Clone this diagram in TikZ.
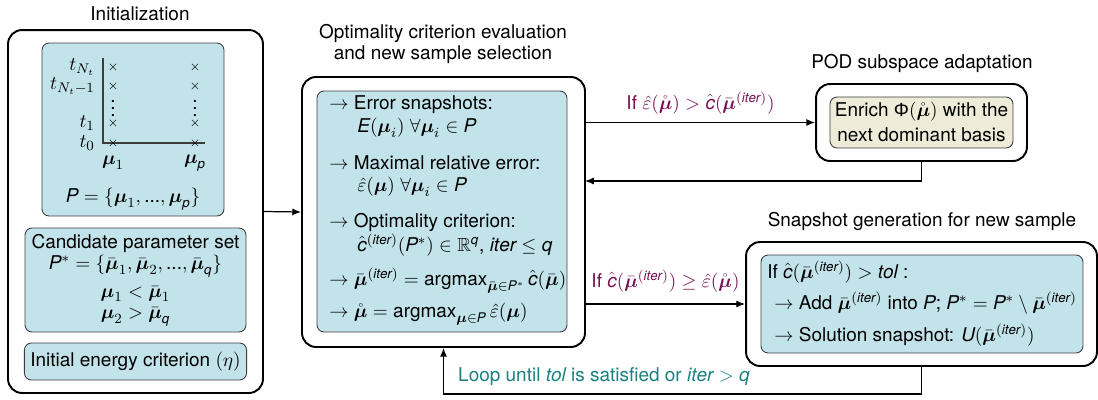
\documentclass[tikz,border=0pt]{standalone}
\usepackage{amsmath,amssymb}
\usepackage{fontspec}
\setmainfont{TeX Gyre Heros}
\newfontfamily\greekfont{Liberation Sans}
\usetikzlibrary{positioning,arrows.meta,calc}
\definecolor{boxblue}{RGB}{194,227,234}
\definecolor{boxtan}{RGB}{238,235,216}
\definecolor{condpurple}{RGB}{122,15,85}
\definecolor{loopteal}{RGB}{26,128,128}
\definecolor{edgegray}{RGB}{60,60,60}
\newcommand{\bmu}{\boldsymbol{\mu}}
\newcommand{\mubar}{\bar{\boldsymbol{\mu}}}
\newcommand{\muring}{\mathring{\boldsymbol{\mu}}}
\newcommand{\itr}{\mathit{iter}}
\newcommand{\sdots}{\text{...}}

\begin{document}
\begin{tikzpicture}[x=0.02cm,y=-0.02cm,font=\fontsize{10.8}{13}\selectfont,
  stage/.style={rectangle,rounded corners=8pt,draw=black,line width=1.1pt,fill=white},
  inbox/.style={rectangle,rounded corners=4pt,draw=edgegray,line width=0.5pt,fill=boxblue},
  txtline/.style={anchor=west,inner sep=0pt},
  flow/.style={-{Latex[length=5pt,width=4pt]},line width=0.7pt},
  xmark/.style={font=\scriptsize,inner sep=0pt}]
\useasboundingbox (0,0) rectangle (1098,399);

% stages
\node[stage,minimum width=5.10cm,minimum height=7.26cm] (init) at (135.5,211.5) {};
\node[stage,minimum width=5.66cm,minimum height=5.40cm] (optim) at (443.5,212) {};
\node[stage,minimum width=4.22cm,minimum height=1.54cm] (pod) at (921.5,122.5) {};
\node[stage,minimum width=7.02cm,minimum height=2.48cm] (snap) at (921.5,304) {};

% titles
\node (inittitle) at (140,14) {Initialization};
\node (optimtitle1) at (443,33) {Optimality criterion evaluation};
\node (optimtitle2) at (443,55) {and new sample selection};
\node (podtitle) at (922,63) {POD subspace adaptation};
\node (snaptitle) at (922,221) {Snapshot generation for new sample};

% initialization
\node[inbox,minimum width=3.64cm,minimum height=3.46cm] (gridbox) at (133,129.5) {};
\draw[line width=0.6pt,edgegray] (103,58) -- (103,143) -- (205,143);
\foreach \col in {113,195}
  \foreach \row in {67,86,123,143}
    \node[xmark] (x-\col-\row) at (\col,\row) {$\times$};
\node (vd1) at (113,103) {$\vdots$};
\node (vdp) at (195,103) {$\vdots$};
\node[anchor=east] (tNt) at (101,67) {$t_{N_t}$};
\node[anchor=east] (tNtm) at (101,86) {$t_{N_t-1}$};
\node[anchor=east] (t1) at (101,123) {$t_1$};
\node[anchor=east] (t0) at (101,143) {$t_0$};
\node (mu1) at (113,163) {$\bmu_1$};
\node (mup) at (195,163) {$\bmu_{\mathit{p}}$};
\node (pset) at (133,199) {$\mathit{P}=\{\bmu_1,\sdots,\bmu_{\mathit{p}}\}$};

\node[inbox,minimum width=4.42cm,minimum height=2.08cm] (cand) at (135.5,280) {};
\node (cand1) at (135.5,243) {Candidate parameter set};
\node (cand2) at (135.5,266) {$\mathit{P}^*=\{\mubar_1,\mubar_2,\sdots,\mubar_{\mathit{q}}\}$};
\node (cand3) at (135.5,294) {$\bmu_1<\mubar_1$};
\node (cand4) at (135.5,317) {$\bmu_2>\mubar_{\mathit{q}}$};
\node[inbox,minimum width=4.42cm,minimum height=0.74cm] (energy) at (135.5,361.5) {Initial energy criterion $(\eta)$};

% criterion evaluation
\node[inbox,minimum width=5.0cm,minimum height=4.82cm] (crit) at (442,211.5) {};
\node[txtline] (crit1) at (329,105) {$\rightarrow$ Error snapshots:};
\node[txtline] (crit2) at (357,128) {$\mathit{E}(\bmu_i)\;\forall\bmu_i\in\mathit{P}$};
\node[txtline] (crit3) at (329,163) {$\rightarrow$ Maximal relative error:};
\node[txtline] (crit4) at (357,187) {$\hat{\varepsilon}(\bmu)\;\forall\bmu_i\in\mathit{P}$};
\node[txtline] (crit5) at (329,222) {$\rightarrow$ Optimality criterion:};
\node[txtline] (crit6) at (357,245) {$\hat{\mathit{c}}^{(\itr)}(\mathit{P}^*)\in\mathbb{R}^{\mathit{q}}$, $\itr\leq\mathit{q}$};
\node[txtline] (crit7) at (329,281) {$\rightarrow\mubar^{(\itr)}=\operatorname{argmax}_{\mubar\in \mathit{P}^*}\hat{\mathit{c}}(\mubar)$};
\node[txtline] (crit8) at (329,314) {$\rightarrow\muring=\operatorname{argmax}_{\bmu\in \mathit{P}}\hat{\varepsilon}(\bmu)$};

% POD adaptation
\node[inbox,fill=boxtan,minimum width=3.66cm,minimum height=1.02cm] (enrich) at (921.5,122.5) {};
\node (enrich1) at (921.5,112) {Enrich $\text{\greekfont Φ}(\muring)$ with the};
\node (enrich2) at (921.5,135) {next dominant basis};

% snapshot generation
\node[inbox,minimum width=6.44cm,minimum height=1.96cm] (update) at (922,304) {};
\node[txtline] (update1) at (767,272) {If $\hat{\mathit{c}}(\mubar^{(\itr)})>\mathit{tol}$ :};
\node[txtline] (update2) at (774,303) {$\rightarrow$ Add $\mubar^{(\itr)}$ into $\mathit{P}$; $\mathit{P}^*=\mathit{P}^*\setminus\mubar^{(\itr)}$};
\node[txtline] (update3) at (774,335) {$\rightarrow$ Solution snapshot: $\mathit{U}(\mubar^{(\itr)})$};

% connectors
\coordinate (podret) at (585,181);
\draw[flow] (init.east) -- (optim.west);
\draw[flow] (optim.east |- pod.west) -- node[above=1pt,text=condpurple] (ifpod)
  {If $\hat{\varepsilon}(\muring)>\hat{\mathit{c}}(\mubar^{(\itr)})$} (pod.west);
\draw[flow] (pod.south) |- (podret);
\draw[flow] (optim.east |- snap.west) -- node[above=3pt,text=condpurple] (ifsnap)
  {If $\hat{\mathit{c}}(\mubar^{(\itr)})\geq\hat{\varepsilon}(\muring)$} (snap.west);
\draw[flow] (snap.south) -- ++(0,27) -| (optim.south);
\node[anchor=west,text=loopteal] (looplabel) at (452,377)
  {Loop until $\mathit{tol}$ is satisfied or $\itr>\mathit{q}$};
\end{tikzpicture}
\end{document}
